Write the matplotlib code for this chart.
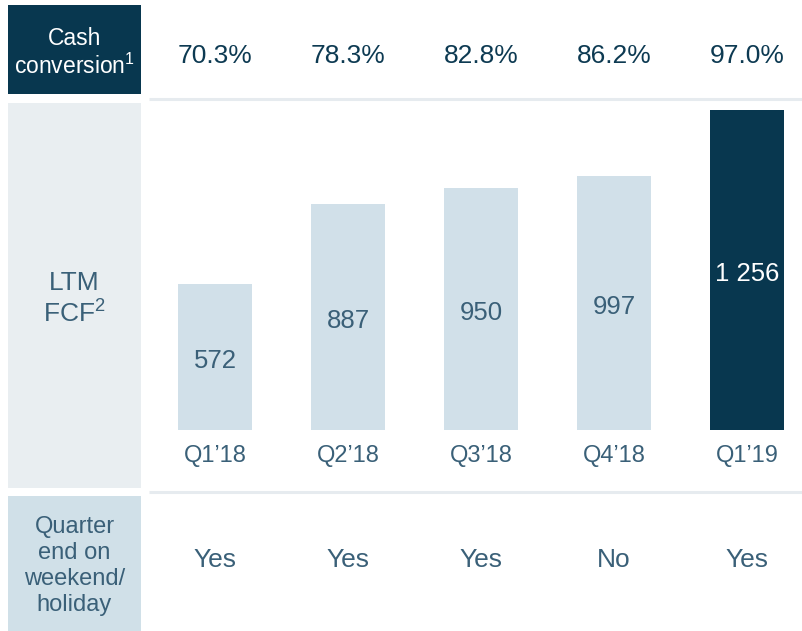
import matplotlib.pyplot as plt
from matplotlib import transforms
from matplotlib.patches import Rectangle

plt.rcParams["font.family"] = ["Liberation Sans", "DejaVu Sans"]
plt.rcParams["mathtext.fontset"] = "custom"
plt.rcParams["mathtext.rm"] = "Liberation Sans"
plt.rcParams["mathtext.it"] = "Liberation Sans"

# 数据
quarters = ["Q1\u201918", "Q2\u201918", "Q3\u201918", "Q4\u201918", "Q1\u201919"]
fcf = [572, 887, 950, 997, 1256]
fcf_labels = ["572", "887", "950", "997", "1 256"]
cash_conv = ["70.3%", "78.3%", "82.8%", "86.2%", "97.0%"]
weekend = ["Yes", "Yes", "Yes", "No", "Yes"]

NAVY = "#08374f"
LIGHT = "#d1e0e9"
TXT = "#3a6078"
W, H = 803, 631

fig = plt.figure(figsize=(W / 100, H / 100), dpi=100)

# 背景层，像素坐标
bg = fig.add_axes([0, 0, 1, 1])
bg.set_xlim(0, W)
bg.set_ylim(H, 0)
bg.axis("off")

bg.add_patch(Rectangle((8, 5), 133, 89, color=NAVY, lw=0))
bg.add_patch(Rectangle((8, 103), 133, 385, color="#e9eef1", lw=0))
bg.add_patch(Rectangle((8, 496), 133, 140, color="#d0e0e8", lw=0))
bg.plot([149, W], [98.5, 98.5], color="#e6ebef", lw=2.2, solid_capstyle="butt")
bg.plot([149, W], [491.5, 491.5], color="#e6ebef", lw=2.2, solid_capstyle="butt")

bg.text(74.5, 53, "Cash\nconversion$^{\\mathrm{1}}$", color="white", fontsize=16.5,
        ha="center", va="center", linespacing=1.2)
bg.text(74.5, 299, "LTM\nFCF$^{\\mathrm{2}}$", color=TXT, fontsize=19,
        ha="center", va="center", linespacing=1.25)
bg.text(74.5, 566, "Quarter\nend on\nweekend/\nholiday", color=TXT, fontsize=17,
        ha="center", va="center", linespacing=1.24)

# 柱状图层
base_px, top_px = 430, 98
px_per_unit = 0.2545
ax = fig.add_axes([149 / W, (H - base_px) / H, (W - 149) / W, (base_px - top_px) / H])
ax.set_xlim((149 - 215) / 133, (W - 215) / 133)
ax.set_ylim(0, (base_px - top_px) / px_per_unit)
ax.axis("off")
ax.patch.set_alpha(0)

x = range(len(quarters))
colors = [LIGHT] * (len(quarters) - 1) + [NAVY]
bars = ax.bar(x, fcf, width=74 / 133, color=colors, lw=0)

lbl_trans = transforms.offset_copy(ax.transData, fig=fig, x=0, y=-4, units="dots")
for i, b in enumerate(bars):
    c = "white" if i == len(quarters) - 1 else TXT
    ax.text(i, fcf[i] / 2, fcf_labels[i], transform=lbl_trans, color=c,
            fontsize=18.5, ha="center", va="center")

trans = transforms.blended_transform_factory(ax.transData, bg.transData)
for i in x:
    ax.text(i, 456, quarters[i], transform=trans, color=TXT, fontsize=17,
            ha="center", va="center", clip_on=False)
    ax.text(i, 56, cash_conv[i], transform=trans, color="#0d3a52", fontsize=19,
            ha="center", va="center", clip_on=False)
    ax.text(i, 560, weekend[i], transform=trans, color=TXT, fontsize=19,
            ha="center", va="center", clip_on=False)

plt.savefig("out.png", dpi=100)
